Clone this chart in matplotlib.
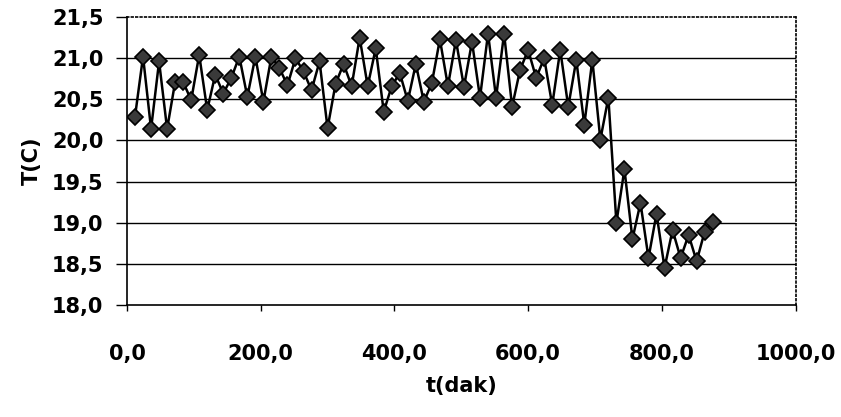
import numpy as np
import matplotlib.pyplot as plt
from matplotlib.ticker import FuncFormatter

# time (min) and temperature (C)
t = [12, 24, 36, 48, 60, 72, 84, 96, 108, 120,
     132, 144, 156, 168, 180, 192, 204, 216, 228, 240,
     252, 264, 276, 288, 300, 312, 324, 336, 348, 360,
     372, 384, 396, 408, 420, 432, 444, 456, 468, 480,
     492, 504, 516, 528, 540, 552, 564, 576, 588, 600,
     612, 624, 636, 648, 660, 672, 684, 696, 708, 720,
     732, 744, 756, 768, 780, 792, 804, 816, 828, 840,
     852, 864, 876]
T = [20.29, 21.02, 20.14, 20.96, 20.14, 20.71, 20.71, 20.49, 21.04, 20.37,
     20.80, 20.57, 20.76, 21.02, 20.53, 21.02, 20.47, 21.02, 20.88, 20.67,
     21.00, 20.84, 20.61, 20.96, 20.15, 20.69, 20.93, 20.66, 21.25, 20.66,
     21.12, 20.35, 20.66, 20.82, 20.48, 20.93, 20.47, 20.70, 21.23, 20.66,
     21.22, 20.65, 21.20, 20.52, 21.30, 20.52, 21.30, 20.41, 20.86, 21.10,
     20.76, 21.00, 20.43, 21.10, 20.41, 20.98, 20.19, 20.98, 20.01, 20.52,
     19.00, 19.65, 18.80, 19.24, 18.57, 19.11, 18.45, 18.91, 18.57, 18.85,
     18.53, 18.89, 19.01]

xticks = [0, 200, 400, 600, 800, 1000]
yticks = [18.0, 18.5, 19.0, 19.5, 20.0, 20.5, 21.0, 21.5]

fig = plt.figure(figsize=(8.41, 4.17), dpi=100)
ax = fig.add_axes([0.151, 0.269, 0.795, 0.690])

for y in yticks[1:-1]:
    ax.axhline(y, color='black', lw=1.0, zorder=1)

ax.plot(t, T, color='black', lw=1.8, marker='D', markersize=8.5,
        markerfacecolor='#3a3a3a', markeredgecolor='black',
        markeredgewidth=1.2, zorder=3)

ax.set_xlim(0, 1000)
ax.set_ylim(18.0, 21.5)
ax.set_xticks(xticks)
ax.set_yticks(yticks)
fmt = FuncFormatter(lambda v, p: ('%.1f' % v).replace('.', ','))
ax.xaxis.set_major_formatter(fmt)
ax.yaxis.set_major_formatter(fmt)

for lab in ax.get_xticklabels() + ax.get_yticklabels():
    lab.set_fontweight('bold')
    lab.set_fontsize(15)
ax.tick_params(axis='x', direction='out', length=4, pad=24, width=1)
ax.tick_params(axis='y', direction='out', length=8, pad=9, width=1)

ax.spines['top'].set_linestyle(':')
ax.spines['right'].set_linestyle(':')
for s in ax.spines.values():
    s.set_linewidth(1.2)

ax.set_xlabel('t(dak)', fontsize=15, fontweight='bold', labelpad=9)
ax.set_ylabel('T(C)', fontsize=15, fontweight='bold', labelpad=7)

fig.savefig('out.png', dpi=100)
